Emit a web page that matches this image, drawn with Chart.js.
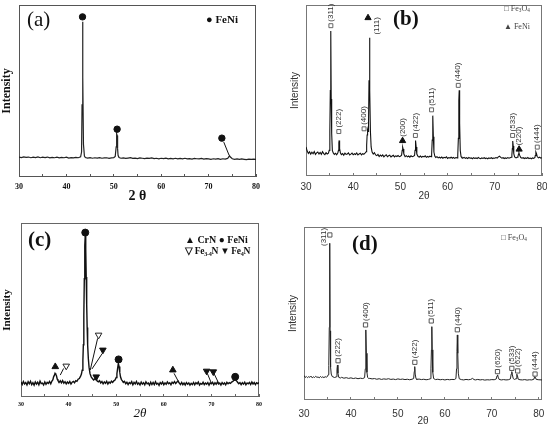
<!DOCTYPE html>
<html><head><meta charset="utf-8">
<script src="https://cdn.jsdelivr.net/npm/chart.js@4.4.1/dist/chart.umd.min.js"></script>
<style>
html,body{margin:0;padding:0;background:#fff;width:547px;height:425px;overflow:hidden;position:relative;}
canvas{position:absolute;}
.t{position:absolute;white-space:nowrap;line-height:1;color:#111;}
.serif{font-family:'Liberation Serif','Times New Roman',serif;}
.sans{font-family:'Liberation Sans',Arial,sans-serif;}
sub{font-size:65%;vertical-align:-0.25em;line-height:0;}
</style></head><body>
<canvas id="ca" width="270" height="205" style="left:0;top:0"></canvas>
<canvas id="cb" width="262" height="205" style="left:285px;top:0"></canvas>
<canvas id="cc" width="270" height="215" style="left:0;top:210px"></canvas>
<canvas id="cd" width="264" height="215" style="left:283px;top:215px"></canvas>

<div class="t serif" style="left:27px;top:9px;font-size:21px;">(a)</div>
<div class="t serif" style="left:206px;top:14px;font-size:11px;font-weight:bold;">● FeNi</div>

<div class="t serif" style="left:393px;top:8px;font-size:21px;font-weight:bold;">(b)</div>
<div class="t serif" style="left:504px;top:5px;font-size:8px;color:#444;">□ Fe<sub>3</sub>O<sub>4</sub></div>
<div class="t serif" style="left:504px;top:23px;font-size:8px;color:#444;">▲ FeNi</div>

<div class="t serif" style="left:28px;top:229px;font-size:21px;font-weight:bold;">(c)</div>
<div class="t serif" style="left:185px;top:235px;font-size:10px;font-weight:bold;">▲ CrN ● FeNi</div>
<div class="t serif" style="left:185px;top:247px;font-size:9.5px;font-weight:bold;letter-spacing:-0.3px;">▽ Fe<sub>3-4</sub>N ▼ Fe<sub>4</sub>N</div>

<div class="t serif" style="left:352px;top:233px;font-size:21px;font-weight:bold;">(d)</div>
<div class="t serif" style="left:501px;top:234px;font-size:8px;color:#444;">□ Fe<sub>3</sub>O<sub>4</sub></div>

<script>
// ---------- shared ----------
const xTicks = [30, 40, 50, 60, 70, 80];
const xTickMarks = [30, 35, 40, 45, 50, 55, 60, 65, 70, 75, 80];

// ---------- panel (a) ----------
const patternA = [[30,11.6],[30.5,11.3],[31,11.7],[31.5,11.4],[32,11.6],[32.5,11.2],[33,11.5],[33.5,11.3],[34,11.7],[34.5,11.2],[35,11.5],[35.5,11.3],[36,11.6],[36.5,11.1],[37,11.4],[37.5,11.2],[38,11.5],[38.5,11.1],[39,11.4],[39.5,11.2],[40,11.5],[40.5,11.0],[41,11.3],[41.5,11.1],[42,11.4],[42.5,11.2],[43,11.7],[43.2,14.5],[43.3,42],[43.4,90.2],[43.5,58],[43.6,19],[43.8,12.2],[44,11.3],[44.5,11.0],[45,11.3],[45.5,10.9],[46,11.2],[46.5,11.0],[47,11.3],[47.5,10.9],[48,11.1],[48.5,11.2],[49,10.8],[49.5,11.1],[50,11.3],[50.3,11.9],[50.5,17.5],[50.6,25.1],[50.7,24.2],[50.8,16.5],[50.9,12.6],[51.1,11.3],[51.5,10.9],[52,11.1],[52.5,10.8],[53,11.0],[53.5,11.2],[54,10.8],[54.5,11.0],[55,10.7],[55.5,11.1],[56,10.9],[56.5,10.7],[57,11.0],[57.5,10.8],[58,11.1],[58.5,10.7],[59,10.9],[59.5,10.6],[60,10.9],[60.5,10.7],[61,11.0],[61.5,10.6],[62,10.8],[62.5,10.6],[63,10.9],[63.5,10.5],[64,10.8],[64.5,10.6],[65,10.9],[65.5,10.5],[66,10.7],[66.5,10.4],[67,10.8],[67.5,10.6],[68,10.5],[68.5,10.8],[69,10.4],[69.5,10.7],[70,10.5],[70.5,10.3],[71,10.6],[71.5,10.4],[72,10.7],[72.5,10.3],[73,10.6],[73.5,10.4],[74,10.8],[74.2,11.4],[74.4,12.4],[74.6,11.6],[75,10.6],[75.5,10.3],[76,10.5],[76.5,10.2],[77,10.5],[77.5,10.3],[78,10.1],[78.5,10.4],[79,10.2],[79.5,10.4],[80,10.2]];
const aFeNiX = [43.4, 50.7, 72.8];
const aFeNiY = [93.1, 27.8, 22.6];
const aLeaders = [[73.2, 20.3, 74.3, 12.8]];

// ---------- panel (b) ----------
const patternB = [[30.00,17.0],[30.25,14.6],[30.50,13.2],[30.75,14.1],[31.00,12.8],[31.25,13.9],[31.50,13.0],[31.75,14.3],[32.00,12.6],[32.25,13.5],[32.50,14.0],[32.75,12.9],[33.00,13.8],[33.25,12.7],[33.50,14.2],[33.75,13.1],[34.00,12.5],[34.25,13.6],[34.50,12.9],[34.75,13.3],[34.92,15.0],[35.05,26.0],[35.15,50.0],[35.25,84.8],[35.34,45.0],[35.44,25.0],[35.58,15.0],[35.78,13.4],[36.00,12.6],[36.25,13.3],[36.50,12.4],[36.75,13.6],[36.88,15.0],[36.96,19.5],[37.03,20.8],[37.12,16.0],[37.30,13.4],[37.50,12.5],[37.75,13.1],[38.00,12.2],[38.25,13.4],[38.50,12.6],[38.75,12.9],[39.00,13.5],[39.25,12.3],[39.50,12.8],[39.75,13.4],[40.00,12.4],[40.25,13.0],[40.50,12.6],[40.75,13.5],[41.00,12.3],[41.25,12.9],[41.50,13.3],[41.75,12.4],[42.00,13.1],[42.25,12.7],[42.50,13.4],[42.75,14.2],[42.85,18.0],[42.95,24.0],[43.05,27.0],[43.15,26.0],[43.25,31.0],[43.35,56.0],[43.45,80.9],[43.55,50.0],[43.65,26.0],[43.80,17.0],[44.00,14.0],[44.25,12.8],[44.50,13.6],[44.75,12.3],[45.00,11.9],[45.25,12.6],[45.50,11.4],[45.75,12.2],[46.00,11.6],[46.25,12.3],[46.50,11.2],[46.75,11.9],[47.00,12.4],[47.25,11.3],[47.50,11.8],[47.75,12.2],[48.00,11.1],[48.25,11.7],[48.50,12.1],[48.75,11.2],[49.00,11.8],[49.25,11.4],[49.50,12.0],[49.75,11.3],[50.00,11.6],[50.25,12.2],[50.38,15.0],[50.48,16.9],[50.58,15.8],[50.72,13.0],[50.90,11.8],[51.00,11.3],[51.25,11.9],[51.50,11.2],[51.75,11.7],[52.00,11.0],[52.25,11.8],[52.50,11.3],[52.75,11.6],[53.00,12.0],[53.10,15.0],[53.18,19.5],[53.24,20.8],[53.34,17.0],[53.48,12.8],[53.75,11.4],[54.00,11.1],[54.25,11.7],[54.50,11.0],[54.75,11.5],[55.00,11.2],[55.25,11.8],[55.50,10.9],[55.75,11.4],[56.00,11.0],[56.25,11.6],[56.50,11.3],[56.62,13.0],[56.74,21.0],[56.82,33.0],[56.90,35.3],[56.98,23.0],[57.10,14.0],[57.30,11.5],[57.50,10.8],[57.75,11.3],[58.00,10.6],[58.25,11.0],[58.50,10.5],[58.75,11.1],[59.00,10.4],[59.25,10.9],[59.50,10.6],[59.75,11.2],[60.00,10.3],[60.25,10.8],[60.50,10.5],[60.75,11.0],[61.00,10.4],[61.25,10.9],[61.50,10.3],[61.75,10.8],[62.00,10.6],[62.15,12.0],[62.28,22.0],[62.38,44.0],[62.46,50.1],[62.55,31.0],[62.68,15.0],[62.85,11.4],[63.00,10.8],[63.25,10.5],[63.50,10.9],[63.75,10.3],[64.00,10.7],[64.25,10.2],[64.50,10.8],[64.75,10.4],[65.00,10.6],[65.25,10.1],[65.50,10.7],[65.75,10.3],[66.00,10.6],[66.25,10.2],[66.50,10.8],[66.75,10.4],[67.00,10.1],[67.25,10.6],[67.50,10.3],[67.75,10.7],[68.00,10.2],[68.25,10.5],[68.50,10.1],[68.75,10.6],[69.00,10.3],[69.25,10.7],[69.50,10.2],[69.75,10.5],[70.00,10.4],[70.25,10.8],[70.50,10.5],[70.75,11.2],[71.00,11.6],[71.25,10.9],[71.50,10.4],[71.75,10.7],[72.00,10.2],[72.25,10.6],[72.50,10.3],[72.75,10.8],[73.00,10.4],[73.25,10.7],[73.50,11.0],[73.62,12.5],[73.72,16.0],[73.80,20.4],[73.90,17.5],[74.02,13.0],[74.20,11.2],[74.50,10.6],[74.75,11.0],[74.90,11.4],[75.02,12.8],[75.12,13.6],[75.25,12.2],[75.50,10.8],[75.75,10.4],[76.00,10.7],[76.25,10.2],[76.50,10.6],[76.75,10.3],[77.00,10.8],[77.25,10.2],[77.50,10.5],[77.75,10.1],[78.00,10.6],[78.25,10.3],[78.50,10.8],[78.58,12.0],[78.70,14.0],[78.82,13.2],[78.98,11.4],[79.25,10.6],[79.50,11.0],[79.75,10.4],[80.00,10.7]];
const bFe3O4X = [35.27, 36.95, 42.3, 53.18, 56.6, 62.26, 73.77, 79.0];
const bFe3O4Y = [87.9, 26.0, 27.6, 23.7, 38.7, 53.0, 23.7, 16.9];
const bFe3O4Labels = ['(311)', '(222)', '(400)', '(422)', '(511)', '(440)', '(533)', '(444)'];
const bFeNiX = [43.14, 50.46, 75.15];
const bFeNiY = [92.5, 20.6, 15.6];
const bFeNiLabels = ['(111)', '(200)', '(220)'];
const bFeNiSides = ['right', 'up', 'up'];

// ---------- panel (c) ----------
const patternC = [[30.00,8.6],[30.25,7.2],[30.50,8.9],[30.75,7.5],[31.00,8.3],[31.25,6.9],[31.50,8.8],[31.75,7.6],[32.00,9.0],[32.25,7.1],[32.50,8.2],[32.75,6.8],[33.00,8.7],[33.25,7.4],[33.50,8.5],[33.75,7.0],[34.00,9.1],[34.25,7.7],[34.50,8.0],[34.75,6.9],[35.00,8.6],[35.25,7.3],[35.50,8.4],[35.75,7.8],[36.00,8.9],[36.25,7.6],[36.50,9.2],[36.70,10.0],[36.85,11.6],[37.00,12.4],[37.15,13.6],[37.30,13.0],[37.45,12.2],[37.60,10.4],[37.75,9.6],[38.00,8.4],[38.25,9.3],[38.50,8.1],[38.75,9.4],[39.00,7.9],[39.25,8.8],[39.50,7.5],[39.75,8.6],[40.00,7.8],[40.25,8.9],[40.50,7.4],[40.75,8.5],[41.00,9.0],[41.25,8.2],[41.50,9.4],[41.75,9.0],[42.00,10.2],[42.25,10.6],[42.50,11.8],[42.70,13.2],[42.85,15.4],[43.00,21.0],[43.10,30.0],[43.20,47.0],[43.30,68.0],[43.40,87.0],[43.50,93.0],[43.60,85.0],[43.70,69.0],[43.80,53.0],[43.90,40.0],[44.00,30.0],[44.15,22.0],[44.30,17.0],[44.50,13.4],[44.75,11.6],[45.00,10.6],[45.25,9.8],[45.50,10.4],[45.75,10.8],[46.00,9.2],[46.25,8.7],[46.50,9.4],[46.75,8.1],[47.00,8.9],[47.25,7.6],[47.50,8.7],[47.75,7.9],[48.00,9.0],[48.25,7.5],[48.50,8.6],[48.75,8.0],[49.00,9.1],[49.25,8.4],[49.50,9.3],[49.75,9.8],[50.00,11.2],[50.15,13.4],[50.30,16.5],[50.45,19.3],[50.60,17.6],[50.75,14.2],[50.90,11.6],[51.10,10.0],[51.30,9.3],[51.50,8.4],[51.75,9.0],[52.00,7.6],[52.25,8.5],[52.50,7.2],[52.75,8.3],[53.00,7.7],[53.25,8.8],[53.50,7.0],[53.75,8.4],[54.00,7.5],[54.25,8.9],[54.50,7.3],[54.75,8.1],[55.00,6.9],[55.25,8.6],[55.50,7.4],[55.75,8.2],[56.00,7.0],[56.25,8.7],[56.50,7.6],[56.75,8.0],[57.00,6.8],[57.25,8.5],[57.50,7.2],[57.75,8.4],[58.00,7.1],[58.25,8.8],[58.50,7.4],[58.75,7.9],[59.00,6.7],[59.25,8.3],[59.50,7.5],[59.75,8.6],[60.00,7.0],[60.25,8.1],[60.50,7.3],[60.75,8.7],[61.00,7.6],[61.25,8.2],[61.50,7.0],[61.75,8.5],[62.00,7.8],[62.25,8.9],[62.50,7.7],[62.75,8.6],[63.00,9.2],[63.25,8.0],[63.50,7.2],[63.75,8.4],[64.00,7.1],[64.25,8.0],[64.50,6.9],[64.75,8.3],[65.00,7.4],[65.25,8.1],[65.50,6.8],[65.75,7.9],[66.00,7.2],[66.25,8.4],[66.50,7.0],[66.75,8.2],[67.00,7.5],[67.25,8.6],[67.50,6.9],[67.75,7.8],[68.00,7.3],[68.25,8.5],[68.50,7.1],[68.75,8.0],[69.00,7.4],[69.25,8.3],[69.50,6.8],[69.75,8.1],[70.00,7.6],[70.25,8.4],[70.50,7.0],[70.75,8.2],[71.00,7.3],[71.25,8.6],[71.50,7.5],[71.75,8.0],[72.00,6.9],[72.25,8.3],[72.50,7.4],[72.75,8.1],[73.00,7.0],[73.25,8.4],[73.50,7.6],[73.75,8.2],[74.00,7.8],[74.25,8.6],[74.50,8.9],[74.75,9.6],[75.00,10.0],[75.25,9.4],[75.50,8.5],[75.75,7.6],[76.00,8.3],[76.25,7.1],[76.50,8.2],[76.75,7.4],[77.00,8.5],[77.25,7.0],[77.50,8.1],[77.75,7.6],[78.00,8.4],[78.25,7.2],[78.50,8.6],[78.75,7.5],[79.00,8.3],[79.25,7.1],[79.50,8.2],[79.75,7.7],[80.00,8.4]];
const cCrNX = [37.2, 61.9];
const cCrNY = [17.4, 15.5];
const cFeNiX = [43.5, 50.5, 75.0];
const cFeNiY = [94.5, 21.6, 11.6];
const cFe34NX = [39.5, 46.3];
const cFe34NY = [17.8, 35.6];
const cFe4NX = [47.2, 45.8, 69.0, 70.4];
const cFe4NY = [27.0, 11.6, 14.9, 14.5];
const cLeaders = [[38.95,16.4,38.25,12.6],[46.1,33.7,44.55,15.5],[47.1,25.1,44.9,16.1],[62.15,13.6,63.2,8.2],[69.2,13.2,70.0,7.9],[70.6,13.2,71.6,7.5]];

// ---------- panel (d) ----------
const patternD = [[30.00,14.2],[30.25,13.0],[30.50,13.6],[30.75,12.9],[31.00,13.5],[31.25,13.1],[31.50,13.8],[31.75,12.8],[32.00,13.4],[32.25,13.0],[32.50,13.7],[32.75,13.1],[33.00,13.3],[33.25,12.8],[33.50,13.6],[33.75,13.0],[34.00,13.4],[34.25,12.9],[34.50,13.5],[34.75,13.2],[35.00,13.6],[35.15,14.6],[35.28,20.0],[35.38,42.0],[35.48,90.6],[35.56,40.0],[35.66,19.0],[35.80,15.0],[36.00,13.6],[36.50,13.0],[36.90,13.4],[37.02,17.5],[37.12,20.2],[37.22,15.5],[37.40,13.1],[37.75,12.7],[38.00,13.1],[38.50,12.6],[39.00,12.9],[39.50,12.5],[40.00,12.8],[40.50,12.4],[41.00,12.7],[41.50,12.3],[42.00,12.6],[42.50,12.4],[42.90,12.9],[43.05,18.0],[43.13,27.0],[43.20,40.5],[43.28,27.0],[43.40,16.0],[43.55,13.0],[43.80,12.4],[44.00,12.5],[44.50,12.2],[45.00,12.4],[45.50,12.0],[46.00,12.3],[46.50,11.9],[47.00,12.2],[47.50,12.0],[48.00,12.3],[48.50,11.9],[49.00,12.1],[49.50,11.8],[50.00,12.2],[50.50,11.9],[51.00,12.1],[51.50,11.8],[52.00,12.0],[52.50,11.7],[53.00,12.0],[53.35,12.4],[53.48,16.5],[53.58,19.3],[53.68,15.0],[53.85,12.3],[54.00,11.9],[54.50,12.1],[55.00,11.8],[55.50,12.0],[56.00,11.7],[56.50,11.9],[56.90,12.3],[57.03,18.0],[57.13,29.0],[57.22,42.4],[57.30,29.0],[57.42,16.0],[57.60,12.4],[58.00,11.8],[58.50,12.0],[59.00,11.7],[59.50,11.9],[60.00,11.6],[60.50,11.9],[61.00,11.7],[61.50,11.9],[62.00,11.8],[62.35,12.4],[62.48,18.0],[62.57,28.0],[62.65,37.6],[62.74,27.0],[62.86,15.5],[63.05,12.3],[63.50,11.8],[64.00,11.6],[64.50,11.9],[65.00,11.7],[65.50,11.9],[65.90,12.5],[66.20,11.8],[66.50,11.6],[67.00,11.9],[67.50,11.6],[68.00,11.8],[68.50,11.5],[69.00,11.7],[69.50,11.6],[70.00,11.8],[70.50,11.7],[70.95,12.2],[71.10,14.0],[71.22,14.5],[71.35,13.2],[71.55,11.9],[72.00,11.6],[72.50,11.8],[73.00,11.6],[73.50,11.7],[73.95,12.2],[74.12,15.0],[74.25,16.4],[74.38,14.5],[74.55,12.4],[74.80,11.9],[75.15,12.3],[75.32,14.9],[75.45,14.0],[75.62,12.0],[76.00,11.7],[76.50,11.6],[77.00,11.8],[77.50,11.5],[78.00,11.7],[78.50,11.6],[78.95,12.0],[79.12,13.5],[79.25,13.2],[79.45,11.9],[80.00,11.7],[80.70,11.6]];
const dFe3O4X = [35.5, 37.25, 43.1, 53.6, 57.1, 62.65, 71.2, 74.25, 75.5, 79.2];
const dFe3O4Y = [95.4, 22.7, 43.4, 21.8, 45.7, 40.6, 16.4, 18.3, 16.8, 15.0];
const dFe3O4Labels = ['(311)', '(222)', '(400)', '(422)', '(511)', '(440)', '(620)', '(533)', '(622)', '(444)'];
const dFe3O4Sides = ['left', 'up', 'up', 'up', 'up', 'up', 'up', 'up', 'up', 'up'];

// ---------- helpers ----------
const SERIF = "'Liberation Serif', 'Times New Roman', serif";
const SANS = "'Liberation Sans', Arial, sans-serif";
const pts = arr => arr.map(p => ({x: p[0], y: p[1]}));
const xy = (xs, ys) => xs.map((x, i) => ({x, y: ys[i]}));

function framePlugin(color) {
  return { id: 'frame', beforeDatasetsDraw(chart) {
    const {ctx, chartArea: a} = chart;
    ctx.save(); ctx.strokeStyle = color; ctx.lineWidth = 1;
    ctx.strokeRect(Math.round(a.left) + 0.5, Math.round(a.top) + 0.5, Math.round(a.right - a.left) - 1, Math.round(a.bottom - a.top) - 1);
    ctx.restore();
  }};
}
function peakLabelPlugin(groups) {
  return { id: 'peakLabels', afterDatasetsDraw(chart) {
    const {ctx, scales} = chart;
    ctx.save();
    groups.forEach(g => {
      ctx.font = g.font; ctx.fillStyle = g.color;
      g.xs.forEach((vx, i) => {
        const px = scales.x.getPixelForValue(vx), py = scales.y.getPixelForValue(g.ys[i]);
        const side = g.sides ? g.sides[i] : 'up';
        let ax = px, ay = py - 4;
        ctx.save();
        ctx.textBaseline = 'middle'; ctx.textAlign = 'left';
        if (side === 'left') { ax = px - 6; ay = py + 2; ctx.textAlign = 'center'; }
        else if (side === 'right') { ax = px + 9; ay = py + 8; ctx.textAlign = 'center'; }
        ctx.translate(ax, ay); ctx.rotate(-Math.PI / 2);
        ctx.fillText(g.texts[i], 0, 0);
        ctx.restore();
      });
    });
    ctx.restore();
  }};
}

function panel(id, p) {
  const datasets = [{
    data: pts(p.pattern), showLine: true, pointRadius: 0, borderColor: p.lineColor,
    borderWidth: p.lineWidth, tension: 0, order: 3
  }];
  (p.leaders || []).forEach(l => datasets.push({
    data: [{x: l[0], y: l[1]}, {x: l[2], y: l[3]}], showLine: true, pointRadius: 0,
    borderColor: '#111', borderWidth: 1, order: 2
  }));
  p.markers.forEach(m => datasets.push({
    data: xy(m.xs, m.ys), showLine: false, pointStyle: m.style, pointRotation: m.rotation || 0,
    pointRadius: m.radius, backgroundColor: m.fill, borderColor: m.stroke, borderWidth: m.bw || 1, order: 1
  }));
  const plugins = [framePlugin(p.frameColor)];
  if (p.labels) plugins.push(peakLabelPlugin(p.labels));
  new Chart(document.getElementById(id), {
    type: 'scatter',
    data: {datasets},
    plugins,
    options: {
      responsive: false, animation: false, devicePixelRatio: 1, events: [],
      layout: {padding: p.padding},
      plugins: {legend: {display: false}, tooltip: {enabled: false}},
      scales: {
        x: {
          type: 'linear', min: 30, max: p.xMax,
          afterBuildTicks: s => { s.ticks = xTickMarks.map(v => ({value: v})); },
          afterFit: s => { s.height = p.xHeight; s.paddingLeft = 0; s.paddingRight = 0; },
          ticks: {font: p.tickFont, color: p.tickColor, padding: p.tickPad + 3, maxRotation: 0, autoSkip: false,
                  callback: v => xTicks.includes(v) ? String(v) : ''},
          grid: {display: true, drawOnChartArea: false, drawTicks: true, tickLength: -3, color: p.frameColor, lineWidth: 1},
          border: {display: false},
          title: {display: true, text: p.xTitle, font: p.xTitleFont, color: p.titleColor, padding: {top: 0, bottom: p.xTitlePad}}
        },
        y: {
          type: 'linear', min: 0, max: 100,
          afterFit: s => { s.width = p.yWidth; s.paddingTop = 0; s.paddingBottom = 0; },
          ticks: {display: false}, grid: {display: false, drawTicks: false}, border: {display: false},
          title: {display: true, text: 'Intensity', font: p.yTitleFont, color: p.titleColor, padding: {top: p.yTitlePad, bottom: 0}}
        }
      }
    }
  });
}

// ---------- build ----------
panel('ca', {
  pattern: patternA, lineColor: '#222', lineWidth: 1.2, frameColor: '#555',
  padding: {left: 0, top: 3, right: 14, bottom: 0}, yWidth: 19, xHeight: 28, xMax: 80,
  tickFont: {family: SERIF, size: 8, weight: 'bold'}, tickColor: '#111', tickPad: 5,
  xTitle: '2 θ', xTitleFont: {family: SERIF, size: 14, weight: 'bold'}, xTitlePad: 0,
  yTitleFont: {family: SERIF, size: 12, weight: 'bold'}, yTitlePad: 0, titleColor: '#111',
  leaders: aLeaders,
  markers: [{xs: aFeNiX, ys: aFeNiY, style: 'circle', radius: 3.2, fill: '#111', stroke: '#111'}]
});

panel('cb', {
  pattern: patternB, lineColor: '#111', lineWidth: 1.1, frameColor: '#777',
  padding: {left: 0, top: 3, right: 1.5, bottom: 0}, yWidth: 21, xHeight: 29, xMax: 80,
  tickFont: {family: SANS, size: 10}, tickColor: '#333', tickPad: 5,
  xTitle: '2θ', xTitleFont: {family: SANS, size: 10}, xTitlePad: 3,
  yTitleFont: {family: SANS, size: 10}, yTitlePad: 4, titleColor: '#333',
  markers: [
    {xs: bFe3O4X, ys: bFe3O4Y, style: 'rect', radius: 2.8, fill: '#fff', stroke: '#555', bw: 0.9},
    {xs: bFeNiX, ys: bFeNiY, style: 'triangle', radius: 3.6, fill: '#111', stroke: '#111'}
  ],
  labels: [
    {xs: bFe3O4X, ys: bFe3O4Y, texts: bFe3O4Labels, font: '8px ' + SANS, color: '#333'},
    {xs: bFeNiX, ys: bFeNiY, texts: bFeNiLabels, sides: bFeNiSides, font: '8px ' + SANS, color: '#333'}
  ]
});

panel('cc', {
  pattern: patternC, lineColor: '#111', lineWidth: 1.4, frameColor: '#666',
  padding: {left: 0, top: 13, right: 11, bottom: 0}, yWidth: 21, xHeight: 28, xMax: 80,
  tickFont: {family: SERIF, size: 6, weight: 'bold'}, tickColor: '#111', tickPad: 4,
  xTitle: '2θ', xTitleFont: {family: SERIF, size: 13, style: 'italic'}, xTitlePad: 4,
  yTitleFont: {family: SERIF, size: 11, weight: 'bold'}, yTitlePad: 1, titleColor: '#111',
  leaders: cLeaders,
  markers: [
    {xs: cCrNX, ys: cCrNY, style: 'triangle', radius: 3.8, fill: '#111', stroke: '#111'},
    {xs: cFeNiX, ys: cFeNiY, style: 'circle', radius: 3.5, fill: '#111', stroke: '#111'},
    {xs: cFe34NX, ys: cFe34NY, style: 'triangle', rotation: 180, radius: 3.8, fill: '#fff', stroke: '#222'},
    {xs: cFe4NX, ys: cFe4NY, style: 'triangle', rotation: 180, radius: 3.8, fill: '#111', stroke: '#111'}
  ]
});

panel('cd', {
  pattern: patternD, lineColor: '#222', lineWidth: 1, frameColor: '#777',
  padding: {left: 0, top: 12, right: 3, bottom: 0}, yWidth: 21, xHeight: 30, xMax: 80.7,
  tickFont: {family: SANS, size: 10}, tickColor: '#333', tickPad: 8,
  xTitle: '2θ', xTitleFont: {family: SANS, size: 10}, xTitlePad: 2.5,
  yTitleFont: {family: SANS, size: 10}, yTitlePad: 4, titleColor: '#333',
  markers: [{xs: dFe3O4X, ys: dFe3O4Y, style: 'rect', radius: 3, fill: '#fff', stroke: '#444', bw: 0.9}],
  labels: [{xs: dFe3O4X, ys: dFe3O4Y, texts: dFe3O4Labels, sides: dFe3O4Sides, font: '8px ' + SANS, color: '#333'}]
});
</script>
</body></html>
